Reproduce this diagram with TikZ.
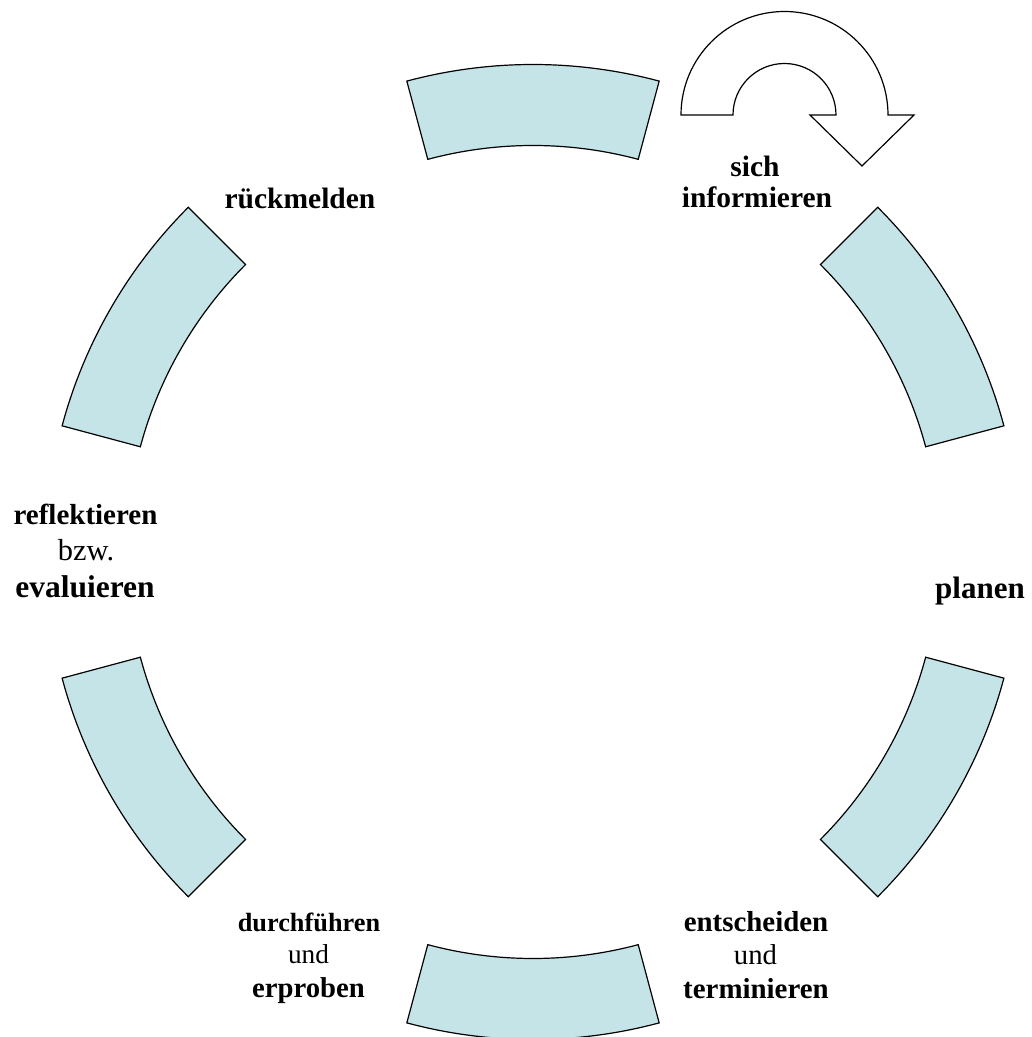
\documentclass[tikz,border=0pt]{standalone}
\usepackage{fontspec}
\setmainfont{Liberation Serif}
\definecolor{segfill}{RGB}{196,228,231}
\tikzset{
  seg/.style={draw=black, fill=segfill, line width=1.2pt, line join=miter},
  uarrow/.style={draw=black, fill=white, line width=1.2pt, line join=miter},
  lbl/.style={anchor=base, inner sep=0pt, outer sep=0pt, align=center},
}
\newcommand{\fsz}[1]{\fontsize{#1}{#1}\selectfont}
\begin{document}
\begin{tikzpicture}[x=1pt,y=1pt]
\useasboundingbox (0,0) rectangle (1032,1037);
\clip (0,0) rectangle (1032,1037);
% ring of six segments
\begin{scope}[shift={(533,485)}]
  \foreach \a in {90,30,-30,-90,-150,150}{
    \draw[seg] (\a-15:487.5) arc[start angle=\a-15, end angle=\a+15, radius=487.5]
      -- (\a+15:406.5) arc[start angle=\a+15, end angle=\a-15, radius=406.5] -- cycle;
  }
\end{scope}
% U-turn arrow
\draw[uarrow] (681,922) arc[start angle=180, end angle=0, radius=103.5]
  -- (914,922) -- (862,871) -- (810,922) -- (836,922)
  arc[start angle=0, end angle=180, radius=51.5] -- cycle;
% labels
\node[lbl] (sich) at (755,860) {\fsz{29.5}\bfseries sich};
\node[lbl] (inf) at (757,829) {\fsz{29.5}\bfseries informieren};
\node[lbl] (rueck) at (300,828) {\fsz{29.5}\bfseries rückmelden};
\node[lbl] (plan) at (980,438) {\fsz{31}\bfseries planen};
\node[lbl] (refl) at (85.5,512) {\fsz{29}\bfseries reflektieren};
\node[lbl] (bzw) at (86,476) {\fsz{30.4}bzw.};
\node[lbl] (eval) at (85,439) {\fsz{31.5}\bfseries evaluieren};
\node[lbl] (durch) at (309,105) {\fsz{26.3}\bfseries durchführen};
\node[lbl] (und1) at (308.5,73) {\fsz{27.3}und};
\node[lbl] (erpr) at (308.5,39) {\fsz{28.7}\bfseries erproben};
\node[lbl] (ents) at (756,105) {\fsz{28.9}\bfseries entscheiden};
\node[lbl] (und2) at (755.5,72) {\fsz{28.7}und};
\node[lbl] (term) at (756,38) {\fsz{28.9}\bfseries terminieren};
\end{tikzpicture}
\end{document}
